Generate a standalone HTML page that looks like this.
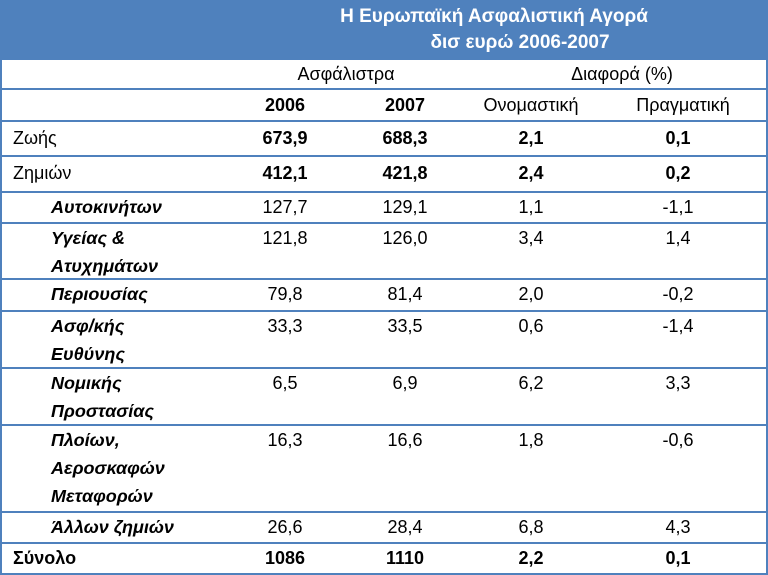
<!DOCTYPE html>
<html><head><meta charset="utf-8"><style>
body{margin:0;width:768px;height:575px;background:#fff;position:relative;overflow:hidden;font-family:"Liberation Sans","DejaVu Sans",sans-serif;color:#000}
.hb{position:absolute;left:0;top:0;width:768px;height:60px;background:#4f81bd}
.t{position:absolute;white-space:nowrap;font-size:18px;line-height:28px}
.c{transform:translateX(-50%)}
.b{font-weight:bold}
.i{font-style:italic;font-weight:bold}
.hl{position:absolute;left:0;width:768px;height:2px;background:#4f81bd}
.vl{position:absolute;top:60px;width:2px;height:515px;background:#4f81bd}
.w{color:#fff;font-weight:bold;font-size:19px;line-height:26px}
</style></head><body>
<div class="hb"></div>
<div class="t c w" style="left:494px;top:4px">Η Ευρωπαϊκή Ασφαλιστική Αγορά</div>
<div class="t c w" style="left:520px;top:30px">δισ ευρώ 2006-2007</div>

<div class="vl" style="left:0"></div>
<div class="vl" style="left:766px"></div>
<div class="hl" style="top:88px"></div>
<div class="hl" style="top:120px"></div>
<div class="hl" style="top:155px"></div>
<div class="hl" style="top:191px"></div>
<div class="hl" style="top:222px"></div>
<div class="hl" style="top:278px"></div>
<div class="hl" style="top:310px"></div>
<div class="hl" style="top:367px"></div>
<div class="hl" style="top:424px"></div>
<div class="hl" style="top:511px"></div>
<div class="hl" style="top:542px"></div>
<div class="hl" style="top:573px"></div>

<div class="t c" style="left:346px;top:60px">Ασφάλιστρα</div>
<div class="t c" style="left:622px;top:60px">Διαφορά (%)</div>
<div class="t c b" style="left:285px;top:91px">2006</div>
<div class="t c b" style="left:405px;top:91px">2007</div>
<div class="t c" style="left:531px;top:91px">Ονομαστική</div>
<div class="t c" style="left:683px;top:91px">Πραγματική</div>

<div class="t" style="left:13px;top:124px">Ζωής</div>
<div class="t c b" style="left:285px;top:124px">673,9</div>
<div class="t c b" style="left:405px;top:124px">688,3</div>
<div class="t c b" style="left:531px;top:124px">2,1</div>
<div class="t c b" style="left:678px;top:124px">0,1</div>

<div class="t" style="left:13px;top:159px">Ζημιών</div>
<div class="t c b" style="left:285px;top:159px">412,1</div>
<div class="t c b" style="left:405px;top:159px">421,8</div>
<div class="t c b" style="left:531px;top:159px">2,4</div>
<div class="t c b" style="left:678px;top:159px">0,2</div>

<div class="t i" style="left:51px;top:193px">Αυτοκινήτων</div>
<div class="t c" style="left:285px;top:193px">127,7</div>
<div class="t c" style="left:405px;top:193px">129,1</div>
<div class="t c" style="left:531px;top:193px">1,1</div>
<div class="t c" style="left:678px;top:193px">-1,1</div>

<div class="t i" style="left:51px;top:224px">Υγείας &amp;<br>Ατυχημάτων</div>
<div class="t c" style="left:285px;top:224px">121,8</div>
<div class="t c" style="left:405px;top:224px">126,0</div>
<div class="t c" style="left:531px;top:224px">3,4</div>
<div class="t c" style="left:678px;top:224px">1,4</div>

<div class="t i" style="left:51px;top:280px">Περιουσίας</div>
<div class="t c" style="left:285px;top:280px">79,8</div>
<div class="t c" style="left:405px;top:280px">81,4</div>
<div class="t c" style="left:531px;top:280px">2,0</div>
<div class="t c" style="left:678px;top:280px">-0,2</div>

<div class="t i" style="left:51px;top:312px">Ασφ/κής<br>Ευθύνης</div>
<div class="t c" style="left:285px;top:312px">33,3</div>
<div class="t c" style="left:405px;top:312px">33,5</div>
<div class="t c" style="left:531px;top:312px">0,6</div>
<div class="t c" style="left:678px;top:312px">-1,4</div>

<div class="t i" style="left:51px;top:369px">Νομικής<br>Προστασίας</div>
<div class="t c" style="left:285px;top:369px">6,5</div>
<div class="t c" style="left:405px;top:369px">6,9</div>
<div class="t c" style="left:531px;top:369px">6,2</div>
<div class="t c" style="left:678px;top:369px">3,3</div>

<div class="t i" style="left:51px;top:426px">Πλοίων,<br>Αεροσκαφών<br>Μεταφορών</div>
<div class="t c" style="left:285px;top:426px">16,3</div>
<div class="t c" style="left:405px;top:426px">16,6</div>
<div class="t c" style="left:531px;top:426px">1,8</div>
<div class="t c" style="left:678px;top:426px">-0,6</div>

<div class="t i" style="left:51px;top:513px">Άλλων ζημιών</div>
<div class="t c" style="left:285px;top:513px">26,6</div>
<div class="t c" style="left:405px;top:513px">28,4</div>
<div class="t c" style="left:531px;top:513px">6,8</div>
<div class="t c" style="left:678px;top:513px">4,3</div>

<div class="t b" style="left:13px;top:544px">Σύνολο</div>
<div class="t c b" style="left:285px;top:544px">1086</div>
<div class="t c b" style="left:405px;top:544px">1110</div>
<div class="t c b" style="left:531px;top:544px">2,2</div>
<div class="t c b" style="left:678px;top:544px">0,1</div>
</body></html>
